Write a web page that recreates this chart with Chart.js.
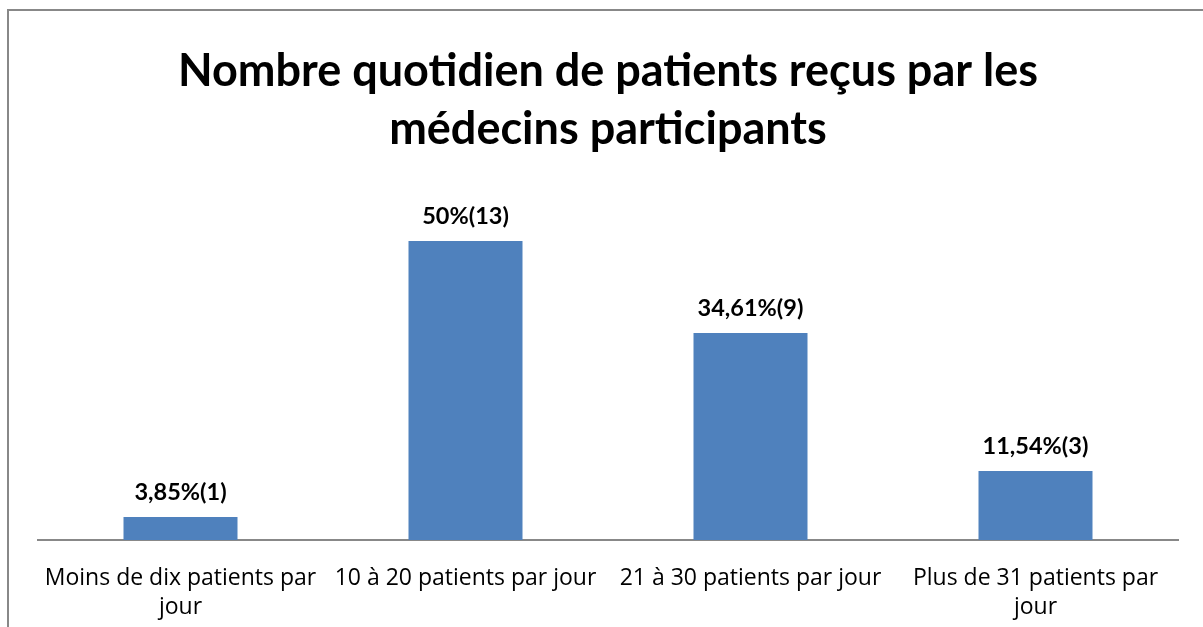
<!DOCTYPE html>
<html>
<head>
<meta charset="utf-8">
<script src="https://cdn.jsdelivr.net/npm/chart.js@4"></script>
<style>
  html, body { margin: 0; padding: 0; background: #fff; overflow: hidden; }
  #frame {
    position: absolute; left: 7px; top: 9px;
    width: 1262px; height: 640px;
    border: 2px solid #888888; border-right: none; border-bottom: none;
  }
</style>
</head>
<body>
<div id="frame">
  <canvas id="barChart" width="1262" height="640"></canvas>
</div>
<script>
const categories = [
  ["Moins de dix patients par", "jour"],
  "10 à 20 patients par jour",
  "21 à 30 patients par jour",
  ["Plus de 31 patients par", "jour"],
];
const counts = [1, 13, 9, 3];
const valueLabels = ["3,85%(1)", "50%(13)", "34,61%(9)", "11,54%(3)"];

// draws the "xx%(n)" text above each bar
const barLabels = {
  id: "barLabels",
  afterDatasetsDraw(chart) {
    const c = chart.ctx;
    const meta = chart.getDatasetMeta(0);
    c.save();
    c.font = "bold 23.5px Lato";
    c.fillStyle = "#000";
    c.textAlign = "center";
    c.textBaseline = "bottom";
    meta.data.forEach((bar, i) => {
      c.fillText(valueLabels[i], bar.x, bar.y - 13);
    });
    c.restore();
  },
};

const ctx = document.getElementById("barChart").getContext("2d");
const barChart = new Chart(ctx, {
  type: "bar",
  data: {
    labels: categories,
    datasets: [
      {
        label: "Patients",
        data: counts,
        backgroundColor: "#4F81BD",
        barPercentage: 0.4,
        categoryPercentage: 1,
      },
    ],
  },
  options: {
    responsive: false,
    animation: false,
    layout: { padding: { left: 29, right: 93, top: 0, bottom: 5 } },
    plugins: {
      legend: { display: false },
      tooltip: { enabled: false },
      title: {
        display: true,
        text: ["Nombre quotidien de patients reçus par les", "médecins participants"],
        color: "#000",
        font: { family: "Lato", size: 45, weight: "bold", lineHeight: 1.29 },
        padding: { top: 31, bottom: 60 },
      },
    },
    scales: {
      x: {
        grid: { display: false, drawTicks: false },
        border: { display: true, color: "#888888", width: 2 },
        ticks: {
          color: "#000",
          padding: 25,
          maxRotation: 0,
          autoSkip: false,
          font: { family: "Open Sans", size: 23, lineHeight: 1.22 },
        },
      },
      y: {
        display: false,
        min: 0,
        max: 14,
      },
    },
  },
  plugins: [barLabels],
});
</script>
</body>
</html>
